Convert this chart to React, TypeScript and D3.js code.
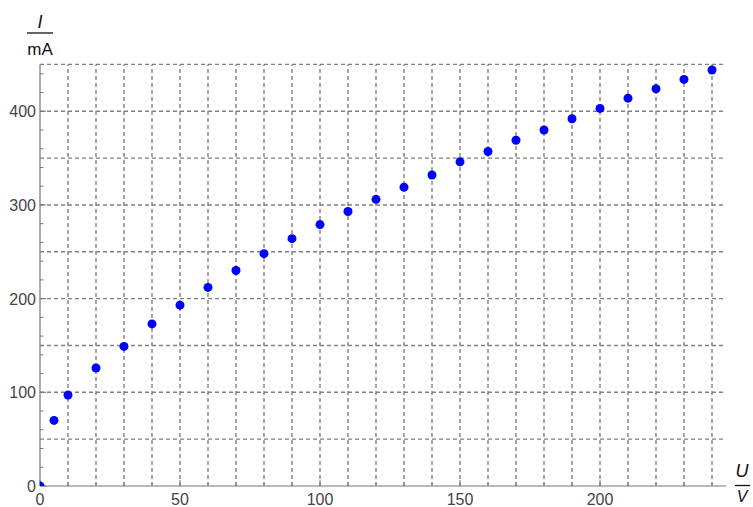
import React, { useRef, useEffect } from "react";
import * as d3 from "d3";

// voltage U in V
const voltages = [0, 5, 10, 20, 30, 40, 50, 60, 70, 80, 90, 100, 110, 120, 130, 140, 150, 160, 170, 180, 190, 200, 210, 220, 230, 240];
// current I in mA
const currents = [0, 70, 97, 126, 149, 173, 193, 212, 230, 248, 264, 279, 293, 306, 319, 332, 346, 357, 369, 380, 392, 403, 414, 424, 434, 444];

const xMajorTicks = [0, 50, 100, 150, 200];
const yMajorTicks = [0, 100, 200, 300, 400];

const App = () => {
  const ref = useRef<SVGSVGElement | null>(null);

  useEffect(() => {
    const width = 753;
    const height = 507;
    const svg = d3.select(ref.current);
    svg.selectAll("*").remove();

    const x = d3.scaleLinear().domain([0, 245]).range([40, 726]);
    const y = d3.scaleLinear().domain([0, 450]).range([486, 64.4]);
    const font = "'Liberation Sans', Arial, sans-serif";
    const gridColor = "#808080";

    // clip markers to the plot area
    svg
      .append("defs")
      .append("clipPath")
      .attr("id", "plotClip")
      .append("rect")
      .attr("x", x(0))
      .attr("y", 0)
      .attr("width", width - x(0))
      .attr("height", y(0));

    // grid: vertical every 10 V, horizontal every 50 mA
    const grid = svg.append("g");
    grid
      .selectAll("line.v")
      .data(d3.range(10, 241, 10))
      .enter()
      .append("line")
      .attr("x1", (d) => x(d))
      .attr("x2", (d) => x(d))
      .attr("y1", y(0))
      .attr("y2", y(450))
      .attr("stroke", gridColor)
      .attr("stroke-width", 1.4)
      .attr("stroke-dasharray", "4,3");
    grid
      .selectAll("line.h")
      .data(d3.range(50, 451, 50))
      .enter()
      .append("line")
      .attr("x1", x(0))
      .attr("x2", x(245))
      .attr("y1", (d) => y(d))
      .attr("y2", (d) => y(d))
      .attr("stroke", gridColor)
      .attr("stroke-width", 1.4)
      .attr("stroke-dasharray", "4,3");

    // axes
    const axisColor = "#777";
    svg
      .append("line")
      .attr("x1", x(0))
      .attr("x2", x(245))
      .attr("y1", y(0))
      .attr("y2", y(0))
      .attr("stroke", axisColor)
      .attr("stroke-width", 1.2);
    svg
      .append("line")
      .attr("x1", x(0))
      .attr("x2", x(0))
      .attr("y1", y(0))
      .attr("y2", y(450))
      .attr("stroke", axisColor)
      .attr("stroke-width", 1.2);

    // x ticks (inward)
    svg
      .selectAll("line.xt")
      .data(d3.range(0, 241, 10))
      .enter()
      .append("line")
      .attr("x1", (d) => x(d))
      .attr("x2", (d) => x(d))
      .attr("y1", y(0))
      .attr("y2", (d) => y(0) - (d % 50 === 0 ? 6 : 3.5))
      .attr("stroke", axisColor);

    // y ticks (inward)
    svg
      .selectAll("line.yt")
      .data(d3.range(0, 441, 20))
      .enter()
      .append("line")
      .attr("x1", x(0))
      .attr("x2", (d) => x(0) + (d % 100 === 0 ? 6 : 3.5))
      .attr("y1", (d) => y(d))
      .attr("y2", (d) => y(d))
      .attr("stroke", axisColor);

    // tick labels
    svg
      .selectAll("text.xl")
      .data(xMajorTicks)
      .enter()
      .append("text")
      .attr("x", (d) => x(d))
      .attr("y", y(0) + 19)
      .attr("text-anchor", "middle")
      .attr("font-family", font)
      .attr("font-size", 16)
      .attr("fill", "#444")
      .text((d) => d);
    svg
      .selectAll("text.yl")
      .data(yMajorTicks)
      .enter()
      .append("text")
      .attr("x", x(0) - 4)
      .attr("y", (d) => y(d) + 6)
      .attr("text-anchor", "end")
      .attr("font-family", font)
      .attr("font-size", 16)
      .attr("fill", "#444")
      .text((d) => d);

    // axis labels as fractions
    const yLab = svg.append("g").attr("font-family", font).attr("fill", "#111");
    yLab.append("text").attr("x", 40).attr("y", 28).attr("text-anchor", "middle").attr("font-size", 18).attr("font-style", "italic").text("I");
    yLab.append("line").attr("x1", 27).attr("x2", 53).attr("y1", 33).attr("y2", 33).attr("stroke", "#111").attr("stroke-width", 1.3);
    yLab.append("text").attr("x", 40).attr("y", 55).attr("text-anchor", "middle").attr("font-size", 17).text("mA");

    const xLab = svg.append("g").attr("font-family", font).attr("fill", "#111");
    xLab.append("text").attr("x", 742).attr("y", 477).attr("text-anchor", "middle").attr("font-size", 18).attr("font-style", "italic").text("U");
    xLab.append("line").attr("x1", 735).attr("x2", 750).attr("y1", 485.5).attr("y2", 485.5).attr("stroke", "#111").attr("stroke-width", 1.3);
    xLab.append("text").attr("x", 742).attr("y", 502).attr("text-anchor", "middle").attr("font-size", 16).attr("font-style", "italic").text("V");

    // data points
    const pts = voltages.map((v, i) => ({ u: v, i: currents[i] }));
    svg
      .append("g")
      .attr("clip-path", "url(#plotClip)")
      .selectAll("circle")
      .data(pts)
      .enter()
      .append("circle")
      .attr("cx", (d) => x(d.u))
      .attr("cy", (d) => y(d.i))
      .attr("r", 4.5)
      .attr("fill", "#0000ff");

    svg.attr("width", width).attr("height", height);
  }, []);

  return (
    <svg
      ref={ref}
      width={753}
      height={507}
      style={{ position: "absolute", left: 0, top: 0, background: "#fff" }}
    />
  );
};

export default App;
